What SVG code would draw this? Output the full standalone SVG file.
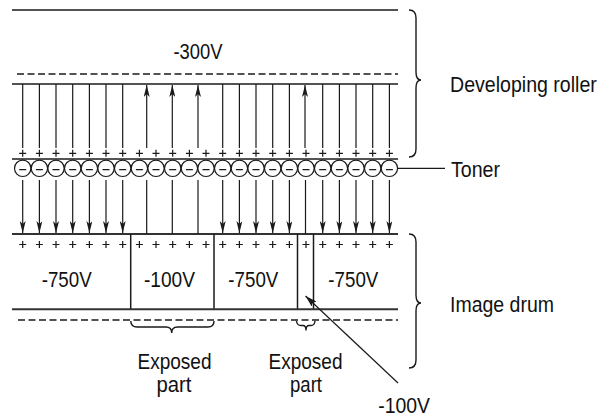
<svg xmlns="http://www.w3.org/2000/svg" width="601" height="417" viewBox="0 0 601 417">
<style>
.ln{stroke:#1a1a1a;stroke-width:1.5;fill:none}
.dr{stroke:#333;stroke-width:2;fill:none}
.fl{stroke:#1a1a1a;stroke-width:1.2;fill:none}
.ds{stroke:#1a1a1a;stroke-width:1.3;stroke-dasharray:7 3.5;fill:none}
.br{stroke:#1a1a1a;stroke-width:1.4;fill:none}
.pl{stroke:#1a1a1a;stroke-width:1.2;fill:none}
.t{font-family:"Liberation Sans",Arial,sans-serif;font-size:21.5px;fill:#111}
.tl{font-family:"Liberation Sans",Arial,sans-serif;font-size:22.5px;fill:#111}
.c{text-anchor:middle}
</style>
<defs>
<marker id="ah" viewBox="0 0 12 6" refX="12" refY="3" markerWidth="12" markerHeight="6" markerUnits="userSpaceOnUse" orient="auto">
<path d="M0,0 L12,3 L0,6 L3,3 Z" fill="#1a1a1a"/>
</marker>
<marker id="ah2" viewBox="0 0 12 7" refX="12" refY="3.5" markerWidth="12" markerHeight="7" markerUnits="userSpaceOnUse" orient="auto">
<path d="M0,0 L12,3.5 L0,7 L2.5,3.5 Z" fill="#1a1a1a"/>
</marker>
</defs>

<g id="developing-roller">
<line class="ln" x1="12" y1="10" x2="398" y2="10"/>
<line class="ds" x1="17" y1="74" x2="398" y2="74"/>
<line class="ln" x1="12" y1="84" x2="398" y2="84"/>
<text class="t c" x="198" y="59" textLength="49" lengthAdjust="spacingAndGlyphs">-300V</text>
<path class="br" d="M409,10 Q416,10 416,18 L416,72 Q416,80 421,80 Q416,80 416,88 L416,149 Q416,157 409,157"/>
<text class="tl" transform="translate(450 92) scale(0.87 1)" x="0" y="0">Developing roller</text>
<path class="pl" d="M19.2,153.3h7M22.7,149.8v7M35.9,153.3h7M39.4,149.8v7M52.5,153.3h7M56,149.8v7M69.2,153.3h7M72.7,149.8v7M85.9,153.3h7M89.4,149.8v7M102.5,153.3h7M106,149.8v7M119.2,153.3h7M122.7,149.8v7M135.9,153.3h7M139.4,149.8v7M152.5,153.3h7M156,149.8v7M169.2,153.3h7M172.7,149.8v7M185.9,153.3h7M189.4,149.8v7M202.5,153.3h7M206,149.8v7M219.2,153.3h7M222.7,149.8v7M235.9,153.3h7M239.4,149.8v7M252.5,153.3h7M256,149.8v7M269.2,153.3h7M272.7,149.8v7M285.9,153.3h7M289.4,149.8v7M302.5,153.3h7M306,149.8v7M319.2,153.3h7M322.7,149.8v7M335.9,153.3h7M339.4,149.8v7M352.5,153.3h7M356,149.8v7M369.2,153.3h7M372.7,149.8v7M385.9,153.3h7M389.4,149.8v7"/>
<line class="ln" x1="12" y1="159" x2="398" y2="159"/>
</g>

<g id="toner">
<g class="pl" stroke-width="1.3">
<circle cx="22.7" cy="168.3" r="8.2"/><circle cx="39.4" cy="168.3" r="8.2"/><circle cx="56" cy="168.3" r="8.2"/><circle cx="72.7" cy="168.3" r="8.2"/><circle cx="89.4" cy="168.3" r="8.2"/><circle cx="106" cy="168.3" r="8.2"/><circle cx="122.7" cy="168.3" r="8.2"/><circle cx="139.4" cy="168.3" r="8.2"/><circle cx="156" cy="168.3" r="8.2"/><circle cx="172.7" cy="168.3" r="8.2"/><circle cx="189.4" cy="168.3" r="8.2"/><circle cx="206" cy="168.3" r="8.2"/><circle cx="222.7" cy="168.3" r="8.2"/><circle cx="239.4" cy="168.3" r="8.2"/><circle cx="256" cy="168.3" r="8.2"/><circle cx="272.7" cy="168.3" r="8.2"/><circle cx="289.4" cy="168.3" r="8.2"/><circle cx="306" cy="168.3" r="8.2"/><circle cx="322.7" cy="168.3" r="8.2"/><circle cx="339.4" cy="168.3" r="8.2"/><circle cx="356" cy="168.3" r="8.2"/><circle cx="372.7" cy="168.3" r="8.2"/><circle cx="389.4" cy="168.3" r="8.2"/>
</g>
<path class="pl" d="M19.2,169.6h7M35.9,169.6h7M52.5,169.6h7M69.2,169.6h7M85.9,169.6h7M102.5,169.6h7M119.2,169.6h7M135.9,169.6h7M152.5,169.6h7M169.2,169.6h7M185.9,169.6h7M202.5,169.6h7M219.2,169.6h7M235.9,169.6h7M252.5,169.6h7M269.2,169.6h7M285.9,169.6h7M302.5,169.6h7M319.2,169.6h7M335.9,169.6h7M352.5,169.6h7M369.2,169.6h7M385.9,169.6h7"/>
<line class="fl" x1="398" y1="168.3" x2="445" y2="168.3"/>
<text class="tl" x="451" y="177" textLength="49" lengthAdjust="spacingAndGlyphs">Toner</text>
</g>

<g id="image-drum">
<line class="dr" x1="12" y1="234" x2="398" y2="234"/>
<path class="pl" d="M19.2,244.5h7M22.7,241v7M35.9,244.5h7M39.4,241v7M52.5,244.5h7M56,241v7M69.2,244.5h7M72.7,241v7M85.9,244.5h7M89.4,241v7M102.5,244.5h7M106,241v7M119.2,244.5h7M122.7,241v7M135.9,244.5h7M139.4,241v7M152.5,244.5h7M156,241v7M169.2,244.5h7M172.7,241v7M185.9,244.5h7M189.4,241v7M202.5,244.5h7M206,241v7M219.2,244.5h7M222.7,241v7M235.9,244.5h7M239.4,241v7M252.5,244.5h7M256,241v7M269.2,244.5h7M272.7,241v7M285.9,244.5h7M289.4,241v7M302.5,244.5h7M306,241v7M319.2,244.5h7M322.7,241v7M335.9,244.5h7M339.4,241v7M352.5,244.5h7M356,241v7M369.2,244.5h7M372.7,241v7M385.9,244.5h7M389.4,241v7"/>
<line class="ln" x1="130.7" y1="234" x2="130.7" y2="309"/>
<line class="ln" x1="214" y1="234" x2="214" y2="309"/>
<line class="ln" x1="297.5" y1="234" x2="297.5" y2="309"/>
<line class="ln" x1="313.5" y1="234" x2="313.5" y2="309"/>
<text class="t c" x="66.7" y="287" textLength="50" lengthAdjust="spacingAndGlyphs">-750V</text>
<text class="t c" x="169.5" y="287" textLength="51" lengthAdjust="spacingAndGlyphs">-100V</text>
<text class="t c" x="253.3" y="287" textLength="50" lengthAdjust="spacingAndGlyphs">-750V</text>
<text class="t c" x="353.3" y="287" textLength="50" lengthAdjust="spacingAndGlyphs">-750V</text>
<line class="dr" x1="12" y1="309.3" x2="398" y2="309.3"/>
<line class="ds" x1="18" y1="320" x2="398" y2="320"/>
<path class="br" d="M409,234 Q416,234 416,242 L416,295 Q416,303 421,303 Q416,303 416,311 L416,360 Q416,368 409,368"/>
<text class="tl" x="450" y="311.5" textLength="104" lengthAdjust="spacingAndGlyphs">Image drum</text>
</g>

<g id="exposed-part-1">
<path class="br" d="M130.7,321 Q131,327 137,327 L166,327 Q171.7,327 171.7,333 Q171.7,327 177.5,327 L208,327 Q214,327 214,321"/>
<text class="t c" x="174.5" y="369" textLength="74" lengthAdjust="spacingAndGlyphs">Exposed</text>
<text class="t c" x="174" y="392" textLength="35" lengthAdjust="spacingAndGlyphs">part</text>
</g>

<g id="exposed-part-2">
<path class="br" d="M296.5,321 Q297,325.5 301,325.5 L303,325.5 Q306,325.5 306,330.5 Q306,325.5 309,325.5 L311,325.5 Q314.5,325.5 315,321"/>
<text class="t c" x="305.5" y="369" textLength="74" lengthAdjust="spacingAndGlyphs">Exposed</text>
<text class="t c" x="306" y="392" textLength="32" lengthAdjust="spacingAndGlyphs">part</text>
</g>

<g id="label-100v">
<text class="t" x="378.3" y="413" textLength="51.7" lengthAdjust="spacingAndGlyphs">-100V</text>
</g>

<g id="connectors">
<path class="fl" d="M22.7,84V148M39.4,84V148M56,84V148M72.7,84V148M89.4,84V148M106,84V148M122.7,84V148M222.7,84V148M239.4,84V148M256,84V148M272.7,84V148M289.4,84V148M322.7,84V148M339.4,84V148M356,84V148M372.7,84V148M389.4,84V148"/>
<line class="fl" x1="146.7" y1="148" x2="146.7" y2="85" marker-end="url(#ah)"/>
<line class="fl" x1="172.3" y1="148" x2="172.3" y2="85" marker-end="url(#ah)"/>
<line class="fl" x1="198" y1="148" x2="198" y2="85" marker-end="url(#ah)"/>
<line class="fl" x1="305" y1="148" x2="305" y2="85" marker-end="url(#ah)"/>
<line class="fl" x1="22.7" y1="180" x2="22.7" y2="233" marker-end="url(#ah)"/>
<line class="fl" x1="39.4" y1="180" x2="39.4" y2="233" marker-end="url(#ah)"/>
<line class="fl" x1="56" y1="180" x2="56" y2="233" marker-end="url(#ah)"/>
<line class="fl" x1="72.7" y1="180" x2="72.7" y2="233" marker-end="url(#ah)"/>
<line class="fl" x1="89.4" y1="180" x2="89.4" y2="233" marker-end="url(#ah)"/>
<line class="fl" x1="106" y1="180" x2="106" y2="233" marker-end="url(#ah)"/>
<line class="fl" x1="122.7" y1="180" x2="122.7" y2="233" marker-end="url(#ah)"/>
<line class="fl" x1="222.7" y1="180" x2="222.7" y2="233" marker-end="url(#ah)"/>
<line class="fl" x1="239.4" y1="180" x2="239.4" y2="233" marker-end="url(#ah)"/>
<line class="fl" x1="256" y1="180" x2="256" y2="233" marker-end="url(#ah)"/>
<line class="fl" x1="272.7" y1="180" x2="272.7" y2="233" marker-end="url(#ah)"/>
<line class="fl" x1="289.4" y1="180" x2="289.4" y2="233" marker-end="url(#ah)"/>
<line class="fl" x1="322.7" y1="180" x2="322.7" y2="233" marker-end="url(#ah)"/>
<line class="fl" x1="339.4" y1="180" x2="339.4" y2="233" marker-end="url(#ah)"/>
<line class="fl" x1="356" y1="180" x2="356" y2="233" marker-end="url(#ah)"/>
<line class="fl" x1="372.7" y1="180" x2="372.7" y2="233" marker-end="url(#ah)"/>
<line class="fl" x1="389.4" y1="180" x2="389.4" y2="233" marker-end="url(#ah)"/>
<path class="fl" d="M146.7,180V234M172.3,180V234M198,180V234M305.5,180V234"/>
<line class="fl" x1="398" y1="383" x2="305.5" y2="296" marker-end="url(#ah2)"/>
</g>
</svg>
